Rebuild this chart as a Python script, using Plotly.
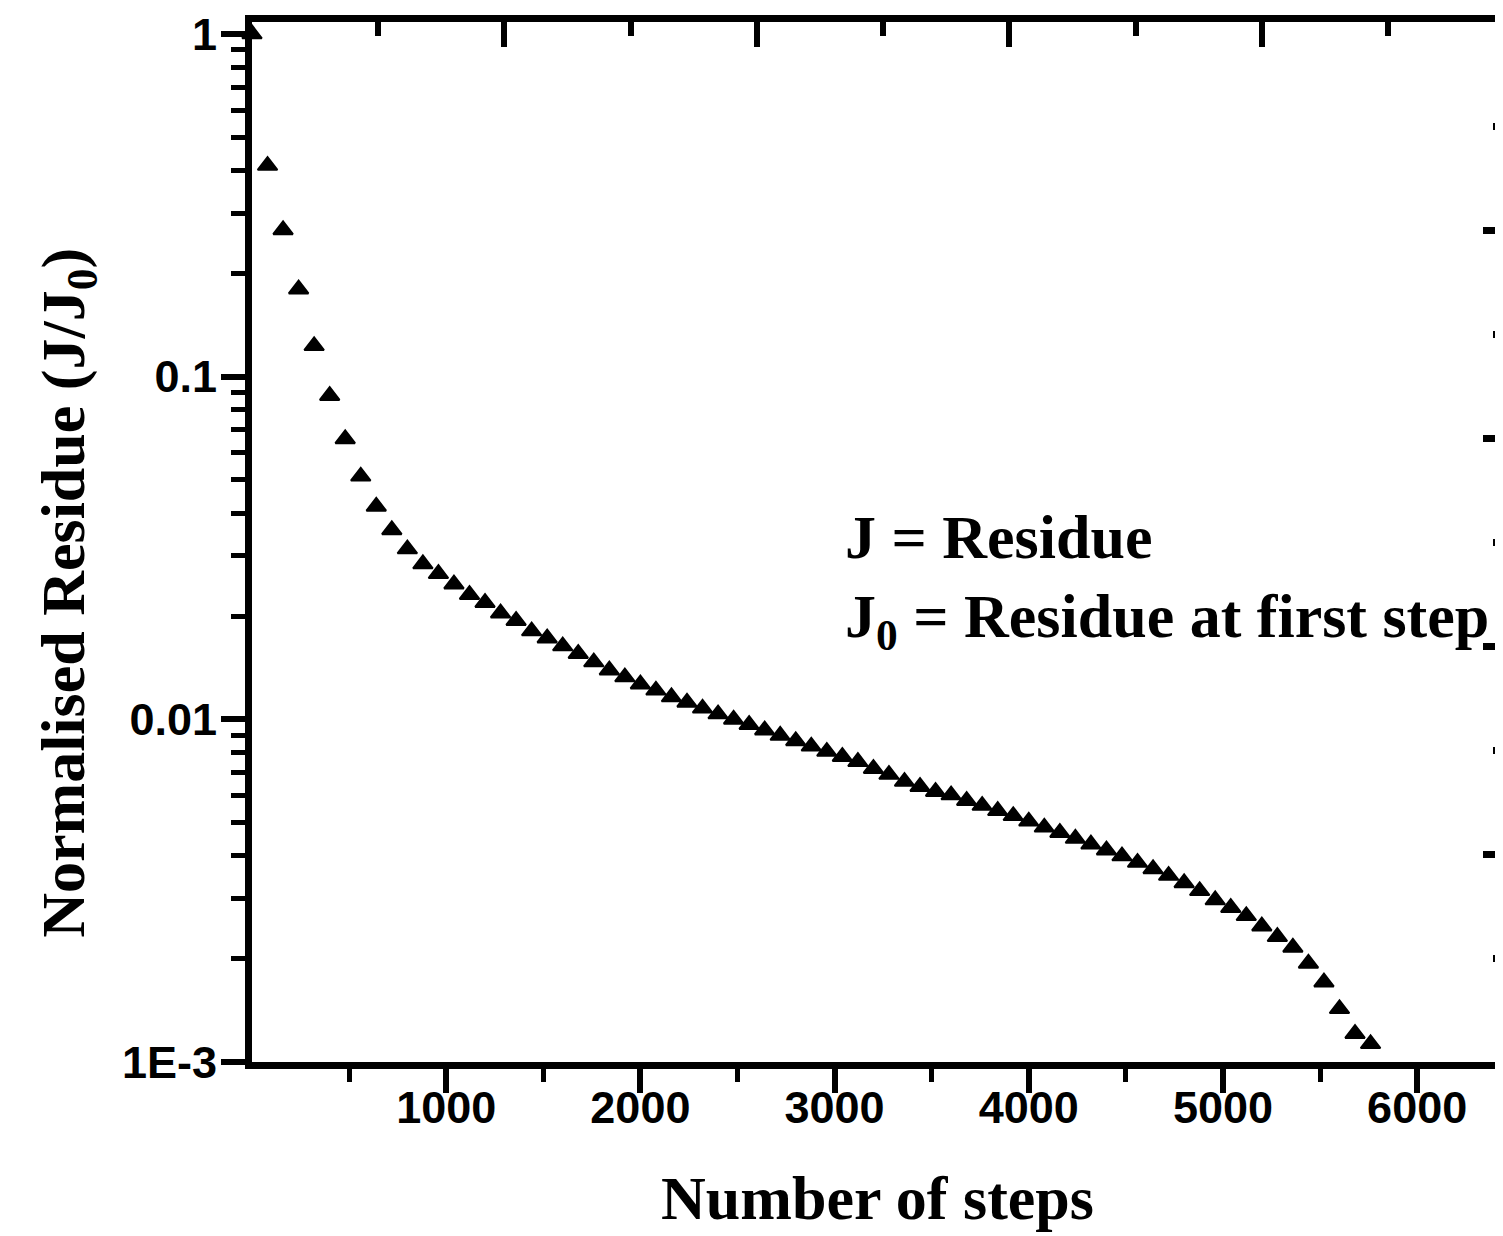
import plotly.graph_objects as go

# ---- data ----
steps = [0, 80, 160, 240, 320, 400, 480, 560, 640, 720,
         800, 880, 960, 1040, 1120, 1200, 1280, 1360, 1440, 1520,
         1600, 1680, 1760, 1840, 1920, 2000, 2080, 2160, 2240, 2320,
         2400, 2480, 2560, 2640, 2720, 2800, 2880, 2960, 3040, 3120,
         3200, 3280, 3360, 3440, 3520, 3600, 3680, 3760, 3840, 3920,
         4000, 4080, 4160, 4240, 4320, 4400, 4480, 4560, 4640, 4720,
         4800, 4880, 4960, 5040, 5120, 5200, 5280, 5360, 5440, 5520,
         5600, 5680, 5760]

residue = [1.0, 0.413, 0.268, 0.180, 0.123, 0.0880, 0.0658, 0.0512, 0.0418, 0.0357,
           0.0314, 0.0284, 0.0266, 0.0248, 0.0231, 0.0219, 0.0204, 0.0194, 0.0181, 0.01725,
           0.01636, 0.01555, 0.01469, 0.01391, 0.01328, 0.01266, 0.01215, 0.01162, 0.01120, 0.01077,
           0.01036, 0.00999, 0.00965, 0.00930, 0.00897, 0.00865, 0.00834, 0.00805, 0.00778, 0.00752,
           0.00718, 0.00690, 0.00658, 0.00636, 0.00615, 0.00601, 0.00579, 0.00560, 0.00541, 0.00523,
           0.00504, 0.00484, 0.00467, 0.00449, 0.00432, 0.00415, 0.00399, 0.00382, 0.00366, 0.00350,
           0.00333, 0.00316, 0.00297, 0.00282, 0.00267, 0.00249, 0.00232, 0.00216, 0.00194, 0.00171,
           0.00143, 0.00121, 0.00113]

x_tickvals = [1000, 2000, 3000, 4000, 5000, 6000]
x_ticktext = ["1000", "2000", "3000", "4000", "5000", "6000"]
y_tickvals = [0.001, 0.01, 0.1, 1]
y_ticktext = ["1E-3", "0.01", "0.1", "1"]
y_minor_vals = [d * 10.0 ** e for e in (-3, -2, -1) for d in range(2, 10)]

x_title = "Number of steps"
y_title = "Normalised Residue (J/J<sub>0</sub>)"
note1 = "J = Residue"
note2 = "J<sub>0</sub> = Residue at first step"

SERIF = "Liberation Serif, Times New Roman, serif"
SANS = "Liberation Sans, Arial, sans-serif"
LW = 7

fig = go.Figure()
fig.add_trace(go.Scatter(
    x=steps, y=residue, mode="markers",
    marker=dict(symbol="triangle-up", size=17, color="black",
                line=dict(color="black", width=2)),
    showlegend=False, cliponaxis=False))
# empty traces to activate the top / right axes
fig.add_trace(go.Scatter(x=[], y=[], xaxis="x2", yaxis="y2", showlegend=False))
fig.add_trace(go.Scatter(x=[], y=[], xaxis="x2", yaxis="y3", showlegend=False))

# page body has an 8 px margin, so the figure is 8 px smaller than the window
fig.update_layout(
    width=1495, height=1228,
    margin=dict(l=244, r=0, t=14, b=174),
    paper_bgcolor="white", plot_bgcolor="white",
    showlegend=False,
    xaxis=dict(
        range=[0, 6442], showgrid=False, zeroline=False,
        showline=True, linecolor="black", linewidth=LW,
        ticks="outside", ticklen=24, tickwidth=6, tickcolor="black",
        tickmode="array", tickvals=x_tickvals, ticktext=x_ticktext,
        tickfont=dict(family=SANS, size=45, color="black", weight="bold"),
        ticklabelstandoff=-24,
        minor=dict(ticks="outside", ticklen=13, tickwidth=5, tickcolor="black",
                   tick0=500, dtick=1000, showgrid=False),
        title=dict(text=x_title, standoff=46,
                   font=dict(family=SERIF, size=62, color="black", weight="bold")),
    ),
    xaxis2=dict(
        range=[0, 6442], overlaying="x", side="top", anchor="y",
        showgrid=False, zeroline=False,
        showline=True, linecolor="black", linewidth=LW,
        ticks="inside", ticklen=25, tickwidth=6, tickcolor="black",
        tick0=0, dtick=1300, showticklabels=False,
        minor=dict(ticks="inside", ticklen=14, tickwidth=6, tickcolor="black",
                   tick0=0, dtick=650, showgrid=False),
    ),
    yaxis=dict(
        type="log", range=[-3, 0.035], showgrid=False, zeroline=False,
        showline=True, linecolor="black", linewidth=LW,
        ticks="outside", ticklen=24, tickwidth=6, tickcolor="black",
        tickmode="array", tickvals=y_tickvals, ticktext=y_ticktext,
        tickfont=dict(family=SANS, size=45, color="black", weight="bold"),
        ticklabelstandoff=-5,
        minor=dict(ticks="outside", ticklen=14, tickwidth=5, tickcolor="black",
                   tickmode="array", tickvals=y_minor_vals, showgrid=False),
    ),
    # right-hand frame: short ticks every division, long ticks every second one
    yaxis2=dict(
        range=[0, 10], overlaying="y", side="right", anchor="x2",
        showgrid=False, zeroline=False, showline=False,
        ticks="inside", ticklen=10, tickwidth=7, tickcolor="black",
        tick0=0, dtick=1, showticklabels=False,
    ),
    yaxis3=dict(
        range=[0, 10], overlaying="y", side="right", anchor="x2",
        showgrid=False, zeroline=False, showline=False,
        ticks="inside", ticklen=20, tickwidth=7, tickcolor="black",
        tick0=0, dtick=2, showticklabels=False,
    ),
    annotations=[
        dict(text=y_title, xref="paper", yref="paper", x=-0.1475, y=0.4516,
             textangle=-90, showarrow=False, xanchor="center", yanchor="middle",
             font=dict(family=SERIF, size=62, color="black", weight="bold")),
        dict(text=note1, xref="paper", yref="paper", x=0.4725, y=0.505,
             showarrow=False, xanchor="left", yanchor="middle",
             font=dict(family=SERIF, size=62, color="black", weight="bold")),
        dict(text=note2, xref="paper", yref="paper", x=0.4725, y=0.425,
             showarrow=False, xanchor="left", yanchor="middle",
             font=dict(family=SERIF, size=62, color="black", weight="bold")),
    ],
)

fig.write_html("out.html")
